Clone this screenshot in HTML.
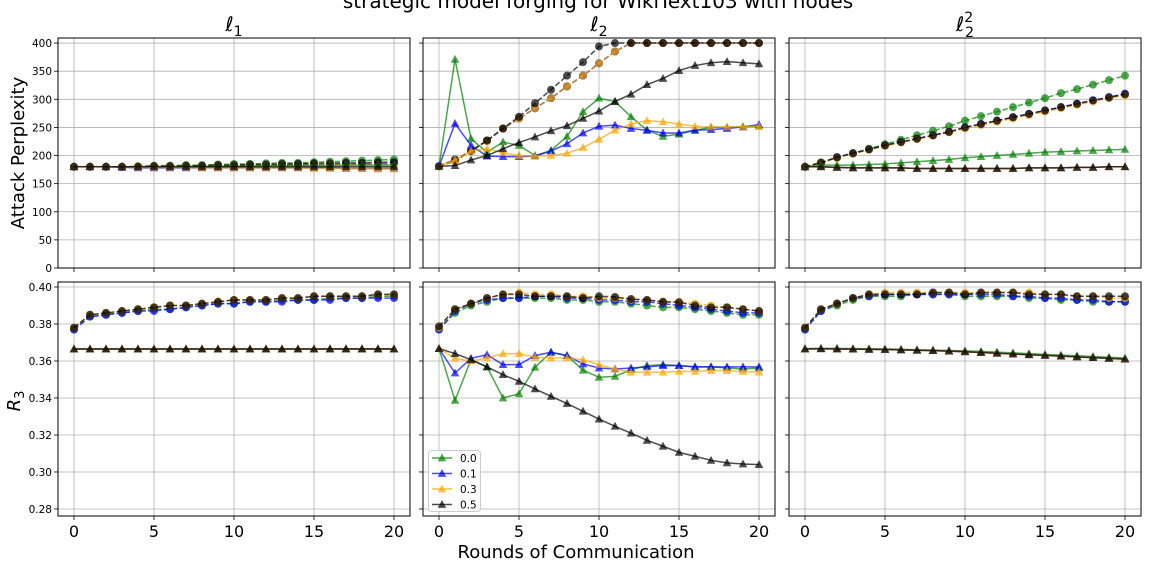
<!DOCTYPE html>
<html><head><meta charset="utf-8">
<style>
html,body{margin:0;padding:0;background:#fff;width:1152px;height:576px;overflow:hidden}
svg{display:block;font-family:"DejaVu Sans","Liberation Sans",sans-serif}
</style></head>
<body>
<svg id="chart" width="1152" height="576" viewBox="0 0 1152 576" xmlns="http://www.w3.org/2000/svg"></svg>
<script>
// ---- data ----
const rounds = [0,1,2,3,4,5,6,7,8,9,10,11,12,13,14,15,16,17,18,19,20];
const noiseLabels = ['0.0','0.1','0.3','0.5'];
const xTicks = [0,5,10,15,20];
const pplTicks = [0,50,100,150,200,250,300,350,400];
const r3Ticks = [0.28,0.30,0.32,0.34,0.36,0.38,0.40];
const panelSubs = ['1','2','2'];
const panelSups = ['','','2'];

// l1 perplexity
const l1PplCircG = [180,180,180,180,181,182,182,183,183,184,185,185,186,187,187,188,189,190,191,192,193];
const l1PplCircB = [180,180,180,180,180,181,181,181,182,182,182,183,183,183,184,184,184,185,185,185,186];
const l1PplCircO = [180,180,180,180,181,181,181,182,182,182,182,183,183,183,183,183,184,184,184,184,184];
const l1PplCircK = [180,180,180,180,180,181,181,182,182,183,183,184,184,185,185,186,186,187,187,188,188];
const l1PplTriG = [180,180,180,180,180,180,180,181,181,181,181,181,182,182,182,182,182,183,183,183,183];
const l1PplTriB = [180,180,180,179,178,178,178,178,178,178,178,178,178,178,178,178,178,177,177,177,177];
const l1PplTriO = [180,180,180,180,179,179,179,179,178,178,178,178,178,178,178,177,177,177,177,176,176];
const l1PplTriK = [180,180,180,180,180,180,180,180,180,180,180,180,180,180,180,180,180,180,180,180,180];
// l2 perplexity
const l2PplCircG = [181,190,208,226,248,266,284,302,323,342,364,385,400,400,400,400,400,400,400,400,400];
const l2PplCircB = [181,190,208,226,248,266,284,302,323,342,364,385,400,400,400,400,400,400,400,400,400];
const l2PplCircO = [181,190,208,226,248,266,284,302,323,342,364,385,400,400,400,400,400,400,400,400,400];
const l2PplCircK = [181,193,208,227,248,269,293,317,342,366,394,400,400,400,400,400,400,400,400,400,400];
const l2PplTriG = [181,371,230,206,224,218,200,209,234,278,302,296,269,245,234,238,245,250,250,251,252];
const l2PplTriB = [181,257,218,199,198,198,199,208,221,240,252,254,248,245,240,240,245,246,248,251,255];
const l2PplTriO = [181,192,208,212,205,200,199,200,204,214,229,245,256,262,260,256,252,251,251,251,252];
const l2PplTriK = [181,182,192,200,212,223,233,244,253,266,279,296,309,326,337,351,360,365,367,365,363];
// l2^2 perplexity
const l22PplCircG = [180,188,196,204,212,220,228,236,244,252,262,270,278,286,294,302,311,318,326,334,342];
const l22PplCircB = [180,187,197,204,211,218,224,230,236,242,250,256,262,268,274,280,286,292,298,304,310];
const l22PplCircO = [180,187,196,203,210,217,223,229,235,241,248,254,260,266,272,278,284,290,296,302,307];
const l22PplCircK = [180,187,197,204,211,218,224,230,236,242,250,256,262,268,274,280,286,292,298,303,309];
const l22PplTriG = [180,183,183,183,184,185,187,189,191,193,196,198,200,202,204,206,207,208,209,210,211];
const l22PplTriB = [180,180,179,178,178,178,178,177,177,177,177,177,177,177,178,178,178,179,179,180,180];
const l22PplTriO = [180,180,179,178,178,178,178,177,177,177,177,177,177,177,178,178,178,179,179,180,180];
const l22PplTriK = [180,180,179,178,178,178,178,177,177,177,177,177,177,177,178,178,178,179,179,180,180];
// l1 R3
const l1R3CircG = [0.377,0.384,0.385,0.386,0.387,0.388,0.388,0.389,0.390,0.391,0.391,0.392,0.392,0.393,0.393,0.393,0.394,0.394,0.394,0.395,0.395];
const l1R3CircB = [0.377,0.384,0.385,0.386,0.387,0.387,0.388,0.389,0.390,0.391,0.391,0.392,0.392,0.392,0.393,0.393,0.393,0.394,0.394,0.394,0.394];
const l1R3CircO = [0.378,0.385,0.386,0.387,0.388,0.389,0.390,0.390,0.391,0.392,0.393,0.393,0.393,0.394,0.394,0.395,0.395,0.395,0.395,0.396,0.396];
const l1R3CircK = [0.378,0.385,0.386,0.387,0.388,0.389,0.390,0.390,0.391,0.392,0.393,0.393,0.393,0.394,0.394,0.395,0.395,0.395,0.395,0.396,0.396];
const l1R3TriG = [0.3665,0.3665,0.3665,0.3665,0.3665,0.3665,0.3665,0.3665,0.3665,0.3665,0.3665,0.3665,0.3665,0.3665,0.3665,0.3665,0.3666,0.3666,0.3666,0.3666,0.3666];
const l1R3TriB = [0.3665,0.3665,0.3665,0.3665,0.3665,0.3665,0.3665,0.3665,0.3665,0.3665,0.3665,0.3665,0.3665,0.3665,0.3665,0.3665,0.3665,0.3665,0.3665,0.3665,0.3665];
const l1R3TriO = [0.3665,0.3665,0.3665,0.3665,0.3665,0.3665,0.3665,0.3665,0.3665,0.3665,0.3665,0.3665,0.3665,0.3665,0.3665,0.3665,0.3665,0.3665,0.3665,0.3665,0.3665];
const l1R3TriK = [0.3665,0.3665,0.3665,0.3665,0.3665,0.3665,0.3665,0.3665,0.3665,0.3665,0.3665,0.3665,0.3665,0.3665,0.3665,0.3665,0.3665,0.3665,0.3665,0.3665,0.3665];
// l2 R3
const l2R3CircG = [0.377,0.386,0.390,0.392,0.394,0.394,0.394,0.394,0.393,0.393,0.392,0.392,0.391,0.390,0.389,0.389,0.388,0.387,0.386,0.385,0.385];
const l2R3CircB = [0.377,0.387,0.391,0.393,0.394,0.394,0.395,0.395,0.394,0.394,0.393,0.393,0.392,0.392,0.391,0.390,0.389,0.388,0.387,0.386,0.386];
const l2R3CircO = [0.378,0.388,0.391,0.394,0.396,0.397,0.396,0.396,0.395,0.395,0.394,0.394,0.393,0.393,0.392,0.392,0.391,0.390,0.389,0.388,0.387];
const l2R3CircK = [0.3787,0.388,0.391,0.394,0.396,0.396,0.395,0.395,0.395,0.394,0.395,0.3946,0.3935,0.393,0.392,0.3917,0.390,0.389,0.389,0.388,0.387];
const l2R3TriG = [0.3667,0.3387,0.3607,0.3568,0.340,0.3423,0.3566,0.3647,0.3629,0.355,0.3512,0.3517,0.3553,0.3575,0.358,0.3575,0.3568,0.3568,0.3562,0.3557,0.3562];
const l2R3TriB = [0.3667,0.3535,0.3614,0.3634,0.358,0.358,0.3629,0.3647,0.3629,0.3584,0.3562,0.3557,0.3562,0.3568,0.3575,0.3575,0.3568,0.3568,0.3568,0.3568,0.3568];
const l2R3TriO = [0.3667,0.3614,0.360,0.3616,0.364,0.364,0.362,0.3616,0.3616,0.3607,0.358,0.3557,0.3539,0.3539,0.3539,0.3544,0.3544,0.3548,0.3548,0.3544,0.354];
const l2R3TriK = [0.3667,0.364,0.3607,0.3568,0.3526,0.349,0.3449,0.3409,0.337,0.3328,0.3286,0.3247,0.321,0.3171,0.3139,0.3106,0.3085,0.3063,0.3049,0.3043,0.304];
// l2^2 R3
const l22R3CircG = [0.377,0.387,0.390,0.393,0.395,0.395,0.395,0.396,0.396,0.396,0.395,0.395,0.395,0.395,0.394,0.394,0.393,0.393,0.392,0.392,0.392];
const l22R3CircB = [0.377,0.387,0.391,0.394,0.395,0.396,0.396,0.396,0.396,0.396,0.396,0.396,0.396,0.395,0.395,0.394,0.394,0.393,0.393,0.392,0.392];
const l22R3CircO = [0.378,0.388,0.391,0.394,0.396,0.397,0.397,0.397,0.397,0.397,0.397,0.397,0.397,0.397,0.397,0.396,0.396,0.395,0.395,0.394,0.394];
const l22R3CircK = [0.378,0.388,0.391,0.394,0.396,0.396,0.396,0.396,0.397,0.397,0.396,0.397,0.397,0.397,0.396,0.396,0.396,0.395,0.395,0.395,0.395];
const l22R3TriG = [0.3667,0.3668,0.3668,0.3667,0.3666,0.3665,0.3663,0.3661,0.3659,0.3657,0.3655,0.3652,0.3648,0.3644,0.364,0.3636,0.3632,0.3628,0.3624,0.362,0.3616];
const l22R3TriB = [0.3665,0.3666,0.3665,0.3664,0.3663,0.3662,0.366,0.3658,0.3656,0.3653,0.365,0.3646,0.3642,0.3638,0.3634,0.363,0.3626,0.3622,0.3618,0.3614,0.361];
const l22R3TriO = [0.3665,0.3666,0.3665,0.3664,0.3663,0.3662,0.366,0.3658,0.3656,0.3653,0.365,0.3646,0.3642,0.3638,0.3634,0.363,0.3626,0.3622,0.3618,0.3614,0.361];
const l22R3TriK = [0.3665,0.3666,0.3665,0.3664,0.3663,0.3662,0.366,0.3658,0.3656,0.3653,0.365,0.3646,0.3642,0.3638,0.3634,0.363,0.3626,0.3622,0.3618,0.3614,0.361];

// ---- drawing ----
const svg = document.getElementById('chart');
const NS = 'http://www.w3.org/2000/svg';
const colors = ['#008000','#0000ff','#ffa500','#000000'];
const colorNames = ['green','blue','orange','black'];
function mk(tag, attrs, parent){
  const e = document.createElementNS(NS, tag);
  for (const k in attrs) e.setAttribute(k, attrs[k]);
  (parent||svg).appendChild(e);
  return e;
}
const panelX = [58, 423, 789];
const panelW = 352;
const rows = [{top:38,bottom:268,min:0,max:409,ticks:pplTicks,fmt:v=>String(v)},
              {top:282,bottom:516,min:0.2762,max:0.4027,ticks:r3Ticks,fmt:v=>v.toFixed(2)}];
const dataSets = [
  [[l1PplCircG,l1PplCircB,l1PplCircO,l1PplCircK],[l1PplTriG,l1PplTriB,l1PplTriO,l1PplTriK]],
  [[l2PplCircG,l2PplCircB,l2PplCircO,l2PplCircK],[l2PplTriG,l2PplTriB,l2PplTriO,l2PplTriK]],
  [[l22PplCircG,l22PplCircB,l22PplCircO,l22PplCircK],[l22PplTriG,l22PplTriB,l22PplTriO,l22PplTriK]],
  [[l1R3CircG,l1R3CircB,l1R3CircO,l1R3CircK],[l1R3TriG,l1R3TriB,l1R3TriO,l1R3TriK]],
  [[l2R3CircG,l2R3CircB,l2R3CircO,l2R3CircK],[l2R3TriG,l2R3TriB,l2R3TriO,l2R3TriK]],
  [[l22R3CircG,l22R3CircB,l22R3CircO,l22R3CircK],[l22R3TriG,l22R3TriB,l22R3TriO,l22R3TriK]]
];
function triPts(x,y,s){return `${x},${y-s} ${x-s*0.95},${y+s*0.75} ${x+s*0.95},${y+s*0.75}`;}

for (let r=0;r<2;r++){
  const row = rows[r];
  const yScale = v => row.bottom - (v-row.min)/(row.max-row.min)*(row.bottom-row.top);
  for (let p=0;p<3;p++){
    const x0 = panelX[p];
    const xScale = v => x0 + (v+1)/22*panelW;
    const g = mk('g',{});
    
    
    xTicks.forEach(t=>{
      const l = mk('line',{x1:xScale(t),x2:xScale(t),y1:row.top,y2:row.bottom,stroke:'#b0b0b0','stroke-width':0.8},g);
      
      
      const tk = mk('line',{x1:xScale(t),x2:xScale(t),y1:row.bottom,y2:row.bottom+4,stroke:'#000','stroke-width':0.8},g);
      
      
      if (r===1){
        const tx = mk('text',{x:xScale(t),y:row.bottom+21,'font-size':16,'text-anchor':'middle',fill:'#000'},g);
        tx.textContent = t;
        
        
      }
    });
    row.ticks.forEach(t=>{
      const y = yScale(t);
      const l = mk('line',{x1:x0,x2:x0+panelW,y1:y,y2:y,stroke:'#b0b0b0','stroke-width':0.8},g);
      
      
      const tk = mk('line',{x1:x0-4,x2:x0,y1:y,y2:y,stroke:'#000','stroke-width':0.8},g);
      
      
      if (p===0){
        const tx = mk('text',{x:x0-6,y:y+4,'font-size':10.5,'text-anchor':'end',fill:'#000'},g);
        tx.textContent = row.fmt(t);
        
        
      }
    });
    const ds = dataSets[r*3+p];
    for (let c=0;c<4;c++){
      const vals = ds[0][c];
      const pts = rounds.map((x,i)=>`${xScale(x)},${yScale(vals[i])}`).join(' ');
      const pl = mk('polyline',{points:pts,fill:'none',stroke:colors[c],'stroke-width':1.5,'stroke-dasharray':'5.5,2.4','stroke-opacity':0.7},g);
      
      
      rounds.forEach((x,i)=>{
        const m = mk('circle',{cx:xScale(x),cy:yScale(vals[i]),r:4,fill:colors[c],'fill-opacity':0.7},g);
        
        
      });
    }
    for (let c=0;c<4;c++){
      const vals = ds[1][c];
      const pts = rounds.map((x,i)=>`${xScale(x)},${yScale(vals[i])}`).join(' ');
      const pl = mk('polyline',{points:pts,fill:'none',stroke:colors[c],'stroke-width':1.5,'stroke-opacity':0.7},g);
      
      
      rounds.forEach((x,i)=>{
        const m = mk('polygon',{points:triPts(xScale(x),yScale(vals[i]),4.5),fill:colors[c],'fill-opacity':0.7},g);
        
        
      });
    }
    const fr = mk('rect',{x:x0,y:row.top,width:panelW,height:row.bottom-row.top,fill:'none',stroke:'#000','stroke-width':1},g);
    
    
    if (r===0){
      const tt = mk('text',{x:x0+panelW/2,y:31,'font-size':20,'text-anchor':'middle',fill:'#000'},g);
      let html = 'ℓ';
      if (panelSups[p]) html += `<tspan font-size="14" dy="-9">${panelSups[p]}</tspan><tspan font-size="14" dx="-8" dy="15">${panelSubs[p]}</tspan>`;
      else html += `<tspan font-size="14" dy="5">${panelSubs[p]}</tspan>`;
      tt.innerHTML = html;
      
      
    }
  }
}
// legend
const lg = mk('g',{});


const lb = mk('rect',{x:428.5,y:450.5,width:52,height:61,rx:3,fill:'#fff','fill-opacity':0.8,stroke:'#ccc'},lg);


noiseLabels.forEach((lab,i)=>{
  const y = 458+i*15.5;
  const l = mk('line',{x1:432,x2:452,y1:y,y2:y,stroke:colors[i],'stroke-width':1.5,'stroke-opacity':0.7},lg);
  
  
  const m = mk('polygon',{points:triPts(442,y,4.5),fill:colors[i],'fill-opacity':0.7},lg);
  
  
  const t = mk('text',{x:460,y:y+4,'font-size':10.5,fill:'#000'},lg);
  t.textContent = lab;
  
  
});
const st = mk('text',{x:598,y:8,'font-size':20,'text-anchor':'middle',fill:'#000'});
st.textContent = 'strategic model forging for WikiText103 with nodes';


const yl1 = mk('text',{x:0,y:0,'font-size':18,'text-anchor':'middle',fill:'#000',transform:'translate(24,153) rotate(-90)'});
yl1.textContent = 'Attack Perplexity';


const yl2 = mk('text',{x:0,y:0,'font-size':18,'text-anchor':'middle',fill:'#000','font-style':'italic',transform:'translate(20,401) rotate(-90)'});
yl2.innerHTML = 'R<tspan font-size="13" dy="4" font-style="normal">3</tspan>';


const xl = mk('text',{x:576,y:558,'font-size':18,'text-anchor':'middle',fill:'#000'});
xl.textContent = 'Rounds of Communication';


</script>
</body></html>
